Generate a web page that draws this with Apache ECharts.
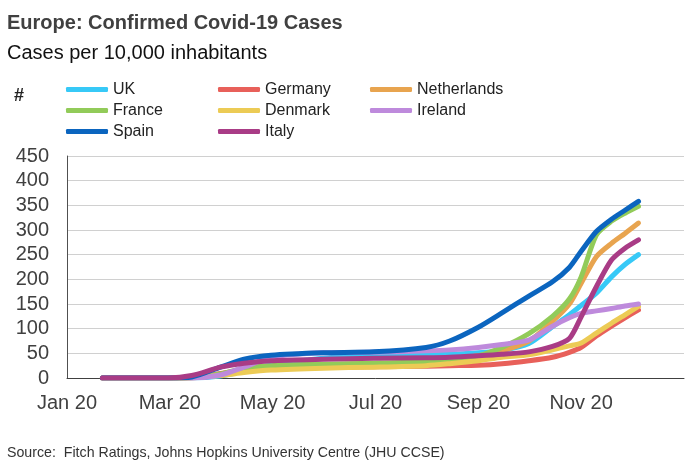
<!DOCTYPE html>
<html>
<head>
<meta charset="utf-8">
<script src="https://cdn.jsdelivr.net/npm/echarts@6/dist/echarts.min.js"></script>
<style>
  html, body { margin: 0; padding: 0; background: #fff; }
  #chart { width: 687px; height: 471px; }
</style>
</head>
<body>
<div id="chart"></div>
<script>
// dates of the sampled points (2020)
const dates = ['2020-01-22', '2020-03-01', '2020-03-15', '2020-04-01', '2020-04-15', '2020-05-01',
    '2020-06-01', '2020-07-01', '2020-08-01', '2020-08-15', '2020-09-01', '2020-09-15',
    '2020-10-01', '2020-10-15', '2020-10-25', '2020-11-01', '2020-11-10', '2020-11-19',
    '2020-11-27', '2020-12-05'];

// cases per 10,000 inhabitants
const uk          = [0, 0, 0, 4, 14, 26, 40, 45, 47, 48, 51, 56, 70, 104, 128, 147, 172, 205, 230, 250];
const germany     = [0, 0, 0, 9, 16, 20, 22, 23, 24, 25, 26, 29, 35, 42, 52, 62, 85, 105, 122, 138];
const netherlands = [0, 0, 1, 7, 17, 23, 27, 29, 33, 38, 45, 55, 75, 115, 150, 192, 246, 273, 293, 314];
const france      = [0, 0, 1, 8, 20, 25, 28, 30, 33, 37, 45, 62, 90, 125, 160, 205, 290, 318, 334, 348];
const denmark     = [0, 0, 1, 5, 11, 16, 20, 22, 25, 29, 35, 42, 47, 57, 65, 71, 91, 111, 128, 145];
const ireland     = [0, 0, 0, 6, 22, 42, 51, 52, 55, 57, 62, 68, 77, 105, 122, 131, 136, 141, 146, 150];
const spain       = [0, 0, 2, 22, 38, 46, 51, 53, 62, 75, 103, 132, 166, 195, 224, 257, 297, 322, 340, 358];
const italy       = [0, 0, 5, 22, 30, 35, 38, 40, 41, 42, 45, 48, 53, 64, 80, 124, 185, 239, 263, 280];

const countries = ['UK', 'Germany', 'Netherlands', 'France', 'Denmark', 'Ireland', 'Spain', 'Italy'];
const values = [uk, germany, netherlands, france, denmark, ireland, spain, italy];
const colors = ['#37C9F7', '#E8605A', '#E8A44F', '#92CB59', '#ECCB55', '#BE8ADC', '#0B65BF', '#A93C86'];

const xTickLabels = ['Jan 20', 'Mar 20', 'May 20', 'Jul 20', 'Sep 20', 'Nov 20', ''];
const yMin = 0, yMax = 450, yStep = 50;

const FONT = '"Liberation Sans", Arial, sans-serif';
const DAY = 86400000;
const start = Date.parse('2020-01-01');
function dayOf(s) {
    return (Date.parse(s) - start) / DAY;
}

const series = countries.map(function (name, i) {
    return {
        name: name,
        type: 'line',
        data: dates.map(function (d, j) { return [dayOf(d), values[i][j]]; }),
        showSymbol: false,
        smooth: 0.25,
        lineStyle: { width: 5, color: colors[i], cap: 'round', join: 'round' },
        itemStyle: { color: colors[i] },
        z: 2 + i
    };
});

const legendBase = {
    orient: 'vertical',
    top: 79,
    padding: 0,
    itemWidth: 42,
    itemHeight: 5,
    itemGap: 0,
    icon: 'roundRect',
    textStyle: { fontFamily: FONT, fontSize: 16, color: '#222', lineHeight: 21 }
};

const chart = echarts.init(document.getElementById('chart'));
chart.setOption({
    animation: false,
    color: colors,
    title: [
        {
            text: 'Europe: Confirmed Covid-19 Cases',
            left: 7, top: 13, padding: 0,
            textStyle: { fontFamily: FONT, fontSize: 20, fontWeight: 'bold', color: '#404040' }
        },
        {
            text: 'Cases per 10,000 inhabitants',
            left: 7, top: 43, padding: 0,
            textStyle: { fontFamily: FONT, fontSize: 20, fontWeight: 'normal', color: '#111' }
        }
    ],
    legend: [
        Object.assign({}, legendBase, { left: 66, data: ['UK', 'France', 'Spain'] }),
        Object.assign({}, legendBase, { left: 218, data: ['Germany', 'Denmark', 'Italy'] }),
        Object.assign({}, legendBase, { left: 370, data: ['Netherlands', 'Ireland'] })
    ],
    grid: { left: 67, right: 2, top: 156, bottom: 93, containLabel: false },
    xAxis: {
        type: 'value',
        min: 0,
        max: 366,
        interval: 61,
        axisLine: { show: true, lineStyle: { color: '#404040', width: 1 } },
        axisTick: { show: false },
        splitLine: { show: false },
        axisLabel: {
            margin: 15,
            fontFamily: FONT,
            fontSize: 20,
            color: '#404040',
            formatter: function (v) { return xTickLabels[Math.round(v / 61)] || ''; }
        }
    },
    yAxis: {
        type: 'value',
        min: yMin,
        max: yMax,
        interval: yStep,
        axisLine: { show: true, lineStyle: { color: '#505050', width: 1 } },
        axisTick: { show: false },
        splitLine: { show: true, lineStyle: { color: '#D0D0D0', width: 1.2 } },
        axisLabel: { margin: 18, fontFamily: FONT, fontSize: 20, color: '#404040' }
    },
    graphic: [
        {
            type: 'text', left: 14, top: 87,
            style: { text: '#', font: 'bold 18px ' + FONT, fill: '#222' }
        },
        {
            type: 'text', left: 7, top: 446,
            style: {
                text: 'Source:  Fitch Ratings, Johns Hopkins University Centre (JHU CCSE)',
                font: '14.2px ' + FONT, fill: '#333'
            }
        }
    ],
    series: series
});
</script>
</body>
</html>
